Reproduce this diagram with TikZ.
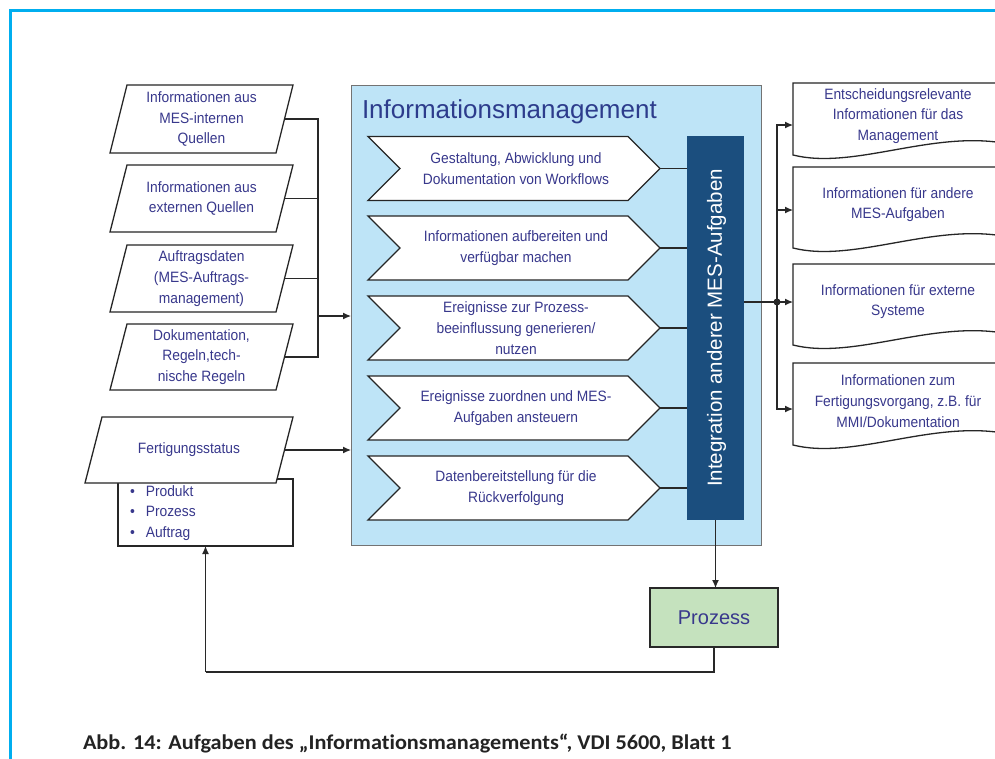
\documentclass[tikz,border=0pt]{standalone}
\usepackage{fontspec}
\setmainfont{Liberation Sans}
\newfontfamily\lblfont{Liberation Sans}[FakeStretch=0.92]
\newfontfamily\capfont{Carlito}[Ligatures=NoCommon, FakeStretch=1.06]
\usetikzlibrary{arrows.meta}
\definecolor{framec}{RGB}{0,174,239}
\definecolor{txt}{RGB}{56,56,140}
\definecolor{titlec}{RGB}{45,60,140}
\definecolor{infobg}{RGB}{190,228,247}
\definecolor{barc}{RGB}{27,78,126}
\definecolor{proc}{RGB}{197,226,190}
\definecolor{lnc}{RGB}{40,40,40}
\definecolor{capc}{RGB}{35,35,35}
\newcommand\mkpara[5]{%
  \node[minimum width=#3pt, minimum height=#4pt] (#1) at #2 {};
  \draw[outl] ([xshift=17pt]#1.north west) -- (#1.north east) -- ([xshift=-17pt]#1.south east) -- (#1.south west) -- cycle;
  \node[lbl] (#1t) at (#1) {#5};}
\newcommand\mkchev[3]{%
  \node[minimum width=292pt, minimum height=64pt] (#1) at (514,#2) {};
  \draw[outl] (#1.north west) -- ([xshift=-32pt]#1.north east) -- (#1.east) -- ([xshift=-32pt]#1.south east) -- (#1.south west) -- ([xshift=32pt]#1.west) -- cycle;
  \node[lbl] (#1t) at ([xshift=2pt]#1) {#3};}
\newcommand\mkdoc[4]{%
  \node[minimum width=210pt, minimum height=#3pt] (#1) at (898,#2) {};
  \draw[outl] (#1.south west) .. controls +(60,15) and +(-73,-12) .. ([yshift=12pt]#1.south east) -- (#1.north east) -- (#1.north west) -- cycle;
  \node[lbl] (#1t) at ([yshift=3pt]#1) {#4};}
\begin{document}
\begin{tikzpicture}[x=1pt,y=-1pt,
  every node/.style={inner sep=0pt, outer sep=0pt},
  lbl/.style={font=\lblfont\fontsize{15}{20.7}\selectfont, text=txt, align=center},
  outl/.style={draw=black!85, line width=1.3pt, fill=white},
  ln/.style={draw=lnc, line width=1.2pt},
  arr/.style={ln, -{Latex[length=8pt,width=7pt]}}]
\path[use as bounding box] (0,0) rectangle (995,758);
\clip (0,0) rectangle (995,758);
\fill[white] (0,0) rectangle (995,758);
\draw[framec, line width=3pt] (10,760) -- (10,10) -- (997,10);

% left inputs
\mkpara{b1}{(201.5,119)}{183}{68}{Informationen aus\\MES-internen\\Quellen}
\mkpara{b2}{(201.5,198.5)}{183}{67}{Informationen aus\\externen Quellen}
\mkpara{b3}{(201.5,278.5)}{183}{67}{Auftragsdaten\\(MES-Auftrags-\\management)}
\mkpara{b4}{(201.5,357)}{183}{66}{Dokumentation,\\Regeln,tech-\\nische Regeln}
\node[draw=black!85, line width=1.3pt, fill=white, minimum width=175pt, minimum height=67pt] (fslist) at (205.5,512.5) {};
\node[lbl, anchor=west, align=left] (fslistt) at (130,513) {\textbullet\hspace{11pt}Produkt\\\textbullet\hspace{11pt}Prozess\\\textbullet\hspace{11pt}Auftrag};
\mkpara{fs}{(189,450)}{208}{66}{Fertigungsstatus}

% main block
\node[draw=black!55, line width=0.8pt, fill=infobg, minimum width=410pt, minimum height=460pt] (im) at (556,315) {};
\node[anchor=base west, font=\fontsize{26}{30}\selectfont, text=titlec] (title) at (362,118) {Informationsmanagement};
\node[fill=barc, minimum width=57pt, minimum height=384pt] (bar) at (715.5,328) {};
\node[rotate=90, text=white, font=\fontsize{20.5}{24}\selectfont] (bart) at ([xshift=1pt]bar) {Integration anderer MES-Aufgaben};
\mkchev{c1}{168.5}{Gestaltung, Abwicklung und\\Dokumentation von Workflows}
\mkchev{c2}{248}{Informationen aufbereiten und\\verfügbar machen}
\mkchev{c3}{328}{Ereignisse zur Prozess-\\beeinflussung generieren/\\nutzen}
\mkchev{c4}{408}{Ereignisse zuordnen und MES-\\Aufgaben ansteuern}
\mkchev{c5}{488}{Datenbereitstellung für die\\Rückverfolgung}
\foreach \c in {c1,c2,c3,c4,c5} {\draw[ln] (\c.east) -- (\c.east -| bar.west);}

% outputs
\mkdoc{d1}{119}{72}{Entscheidungsrelevante\\Informationen für das\\Management}
\mkdoc{d2}{207.5}{81}{Informationen für andere\\MES-Aufgaben}
\mkdoc{d3}{304.5}{81}{Informationen für externe\\Systeme}
\mkdoc{d4}{404}{82}{Informationen zum\\Fertigungsvorgang, z.B. für\\MMI/Dokumentation}

% process
\node[draw=lnc, line width=1.2pt, fill=proc, minimum width=128pt, minimum height=59pt, font=\fontsize{20}{24}\selectfont, text=txt] (proz) at (714,617.5) {Prozess};

% connectors left
\coordinate (bus) at (318,316);
\draw[ln] ([xshift=-8.5pt]b1.east) -| (bus);
\draw[ln] ([xshift=-8.5pt]b4.east) -| (bus);
\draw[ln] ([xshift=-8.5pt]b2.east) -- (b2.east -| bus);
\draw[ln] ([xshift=-8.5pt]b3.east) -- (b3.east -| bus);
\draw[arr] (bus) -- (bus -| im.west);
\draw[arr] ([xshift=-8pt]fs.east) -- (fs.east -| im.west);

% connectors right
\coordinate (dot) at (777,302);
\draw[ln] (bar.east |- dot) -- (dot);
\draw[arr] (dot) |- ([yshift=-6pt]d1.west);
\draw[arr] (dot) |- ([yshift=-2.5pt]d2.west);
\draw[arr] (dot) |- ([yshift=2.5pt]d3.west);
\draw[arr] (dot) |- ([yshift=-5pt]d4.west);
\fill[lnc] (dot) circle (3.5);

% process loop
\draw[arr] (bar.south) -- (bar.south |- proz.north);
\coordinate (fb) at (205.5,672);
\draw[ln] (proz.south) |- (fb);
\draw[arr] (fb) -- (fslist.south);

% caption
\node[anchor=base west, font={\capfont\fontsize{21}{25}\selectfont\bfseries}, text=capc] (cap) at (83,749) {Abb. 14: Aufgaben des „Informationsmanagements“, VDI 5600, Blatt 1};
\end{tikzpicture}
\end{document}
